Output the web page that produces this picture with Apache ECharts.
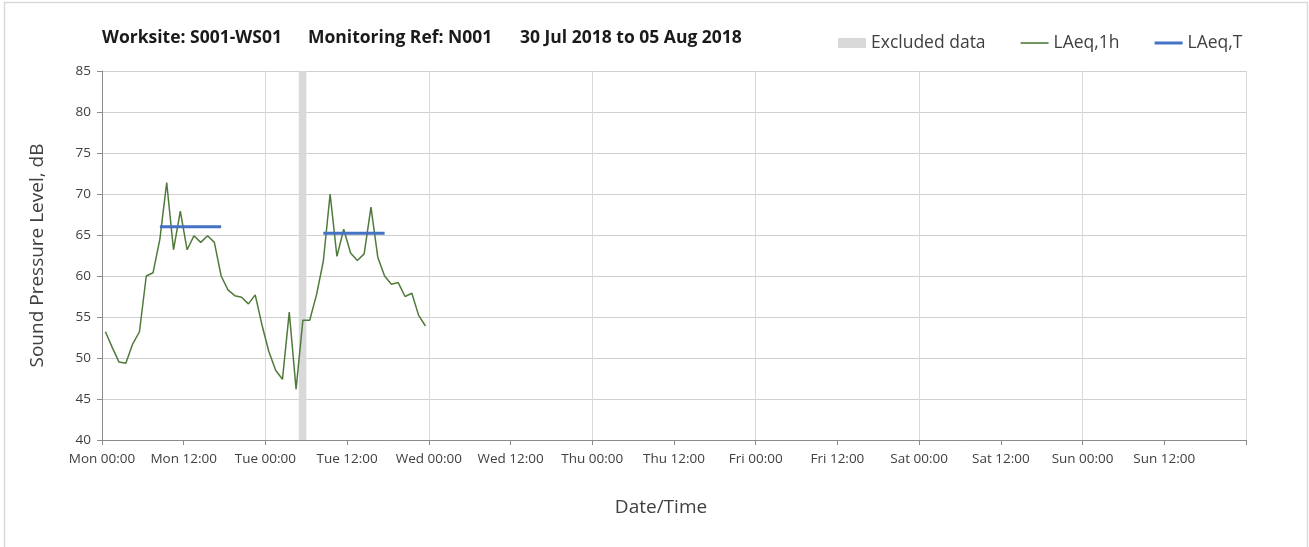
<!DOCTYPE html>
<html>
<head>
<meta charset="utf-8">
<script src="https://cdn.jsdelivr.net/npm/echarts@6/dist/echarts.min.js"></script>
<style>
  html, body { margin: 0; padding: 0; background: #fff; }
  #chart { width: 1309px; height: 547px; }
</style>
</head>
<body>
<div id="chart"></div>
<script>
// ---- data ----
const titleParts = ['Worksite: S001-WS01', 'Monitoring Ref: N001', '30 Jul 2018 to 05 Aug 2018'];
const tickLabels = ['Mon 00:00', 'Mon 12:00', 'Tue 00:00', 'Tue 12:00', 'Wed 00:00', 'Wed 12:00',
  'Thu 00:00', 'Thu 12:00', 'Fri 00:00', 'Fri 12:00', 'Sat 00:00', 'Sat 12:00', 'Sun 00:00', 'Sun 12:00'];
// hourly LAeq,1h values, starting Mon 00:00 (plotted at the middle of each hour)
const laeq1h = [53.2, 51.3, 49.5, 49.35, 51.7, 53.2, 60.0, 60.4, 64.5, 71.4, 63.2, 67.9,
  63.2, 64.9, 64.1, 64.9, 64.1, 60.0, 58.3, 57.6, 57.4, 56.6, 57.7, 54.0,
  50.8, 48.5, 47.4, 55.6, 46.2, 54.6, 54.6, 57.7, 61.8, 70.0, 62.4, 65.7,
  62.8, 61.9, 62.7, 68.4, 62.3, 60.0, 59.0, 59.2, 57.5, 57.9, 55.2, 53.9];
// LAeq,T daytime periods: [start hour mid, end hour mid, value]
const laeqT = [[8.5, 17.5, 66.0], [32.5, 41.5, 65.2]];
// excluded data period (hours from Mon 00:00)
const excluded = [28.9, 30.0];

const hourly = laeq1h.map((v, i) => [i + 0.5, v]);
const tData = [];
laeqT.forEach((p, i) => {
  if (i > 0) tData.push(['-', '-']);
  tData.push([p[0], p[2]]);
  tData.push([p[1], p[2]]);
});

const FONT = '"Open Sans", "Liberation Sans", sans-serif';
const chart = echarts.init(document.getElementById('chart'));
const titleLefts = [97, 303, 515];

chart.setOption({
  animation: false,
  textStyle: { fontFamily: FONT },
  title: titleParts.map((t, i) => ({
    text: t, left: titleLefts[i], top: 24,
    textStyle: { fontSize: 17.5, fontWeight: 'bold', color: '#1a1a1a', fontFamily: FONT }
  })),
  graphic: [{
    type: 'rect', silent: true,
    shape: { x: 4.5, y: 2.5, width: 1303, height: 560 },
    style: { fill: 'none', stroke: '#d9d9d9', lineWidth: 1.5 }
  }],
  legend: {
    left: 833, top: 29,
    itemWidth: 28, itemHeight: 10, itemGap: 35,
    symbolKeepAspect: true,
    textStyle: { fontSize: 17.5, color: '#404040', fontFamily: FONT },
    data: [
      { name: 'Excluded data', icon: 'rect' },
      { name: 'LAeq,1h', icon: 'path://M0,0L28,0L28,1.6L0,1.6Z',
        textStyle: { padding: [0, 7, 0, 0] } },
      { name: 'LAeq,T', icon: 'path://M0,0L28,0L28,3L0,3Z' }
    ]
  },
  grid: { left: 102, right: 63, top: 71, bottom: 107, containLabel: false },
  xAxis: [{
    type: 'value', min: 0, max: 168, interval: 12,
    name: 'Date/Time', nameLocation: 'middle', nameGap: 58,
    nameTextStyle: { fontSize: 19, color: '#404040', padding: [0, 26, 0, 0] },
    axisLine: { lineStyle: { color: '#8c8c8c' } },
    axisTick: { show: true, length: 5, lineStyle: { color: '#8c8c8c' } },
    axisLabel: { fontSize: 13.5, color: '#404040', margin: 12,
      formatter: v => tickLabels[Math.round(v / 12)] || '' },
    splitLine: { show: false }
  }, {
    type: 'value', min: 0, max: 168, interval: 24, position: 'bottom',
    axisLine: { show: false }, axisTick: { show: false }, axisLabel: { show: false },
    splitLine: { show: true, lineStyle: { color: '#d9d9d9', width: 1 } }
  }],
  yAxis: {
    type: 'value', min: 40, max: 85, interval: 5,
    name: 'Sound Pressure Level, dB', nameLocation: 'middle', nameGap: 55, nameRotate: 90,
    nameTextStyle: { fontSize: 19, color: '#404040' },
    axisLine: { show: true, lineStyle: { color: '#8c8c8c' } },
    axisTick: { show: true, length: 5, lineStyle: { color: '#8c8c8c' } },
    axisLabel: { fontSize: 13.5, color: '#404040', margin: 11 },
    splitLine: { show: true, lineStyle: { color: '#d0d0d0', width: 1.2 } }
  },
  series: [{
    name: 'Excluded data', type: 'bar', data: [],
    itemStyle: { color: '#d9d9d9' },
    markArea: {
      silent: true,
      itemStyle: { color: '#d9d9d9' },
      data: [[{ xAxis: excluded[0] }, { xAxis: excluded[1] }]]
    }
  }, {
    name: 'LAeq,1h', type: 'line', data: hourly, symbol: 'none',
    color: '#507a3c',
    lineStyle: { color: '#507a3c', width: 1.5 }, z: 3
  }, {
    name: 'LAeq,T', type: 'line', data: tData, symbol: 'none',
    color: '#4472c4', connectNulls: false,
    lineStyle: { color: '#4472c4', width: 3 }, z: 4
  }]
});
</script>
</body>
</html>
